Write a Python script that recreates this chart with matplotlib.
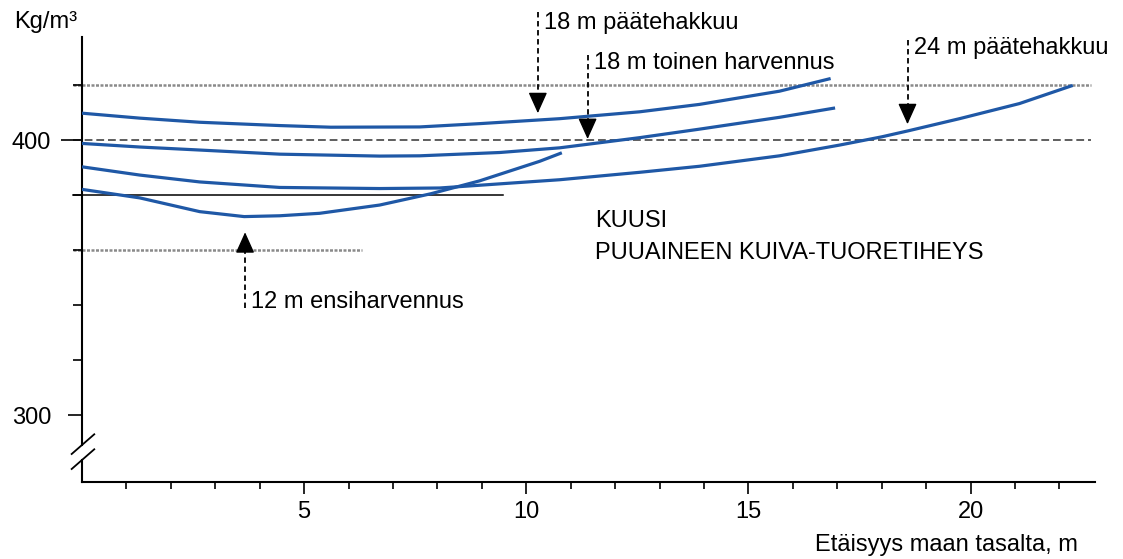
import matplotlib.pyplot as plt

plt.rcParams['font.family'] = ['Liberation Sans', 'DejaVu Sans']

# Käyrät: etäisyys maan tasalta (m) ja kuiva-tuoretiheys (kg/m3)
x_18_paate = [0, 1.3, 2.65, 4.45, 5.6, 7.6, 8.95, 10.75, 12.55, 13.9, 15.7, 16.85]
y_18_paate = [409.8, 408.0, 406.5, 405.3, 404.7, 404.8, 406.0, 407.8, 410.3, 413.0, 417.8, 422.4]

x_18_toinen = [0, 1.3, 2.65, 4.45, 6.7, 7.6, 9.4, 10.75, 12.55, 13.9, 15.7, 16.95]
y_18_toinen = [398.8, 397.5, 396.4, 394.9, 394.2, 394.3, 395.5, 397.2, 400.9, 404.0, 408.3, 411.7]

x_24_paate = [0, 1.3, 2.65, 4.45, 6.7, 8.05, 10.75, 12.55, 13.9, 15.7, 17.05, 18.0, 18.6, 19.75, 21.1, 22.3]
y_24_paate = [390.3, 387.3, 384.8, 382.8, 382.4, 382.6, 385.6, 388.3, 390.5, 394.3, 398.2, 401.2, 403.4, 407.8, 413.3, 419.9]

x_12_ensi = [0, 1.3, 2.65, 3.65, 4.45, 5.35, 6.7, 7.85, 8.95, 10.3, 10.8]
y_12_ensi = [382.1, 379.0, 374.0, 372.2, 372.5, 373.4, 376.4, 380.5, 385.2, 392.3, 395.4]

# Vaakaviivat: taso ja loppukohta (m)
ref_levels = [420, 400, 380, 360]
ref_ends = [22.72, 22.72, 9.47, 6.3]

# Nuolet: teksti, x, alku-y, kärki-y, tekstin x ja y
arrow_labels = ['18 m päätehakkuu', '18 m toinen harvennus', '24 m päätehakkuu', '12 m ensiharvennus']
arrow_x = [10.26, 11.38, 18.58, 3.67]
arrow_from = [446.5, 431.0, 436.4, 338.9]
arrow_to = [409.8, 400.4, 405.8, 366.5]
label_x = [10.4, 11.52, 18.72, 3.8]
label_y = [442.5, 428.0, 433.5, 341.0]

blue = '#1f58a6'

fig = plt.figure(figsize=(11.23, 5.59), dpi=100)
ax = fig.add_axes([82 / 1123, 1 - 482 / 559, 1013 / 1123, 445 / 559])
ax.set_xlim(0, 22.8)
ax.set_ylim(275.7, 437.5)

# vaakaviivat
styles = [dict(color='#8a8a8a', ls=(0, (1.2, 0.6)), lw=1.8),
          dict(color='#5e5e5e', ls=(0, (4, 2)), lw=1.4),
          dict(color='black', ls='-', lw=1.1),
          dict(color='#8a8a8a', ls=(0, (1.2, 0.6)), lw=1.8)]
for lev, end, st in zip(ref_levels, ref_ends, styles):
    ax.plot([-0.2, end], [lev, lev], clip_on=False, zorder=1, **st)

for xs, ys in [(x_18_paate, y_18_paate), (x_18_toinen, y_18_toinen),
               (x_24_paate, y_24_paate), (x_12_ensi, y_12_ensi)]:
    ax.plot(xs, ys, color=blue, lw=2.3, solid_capstyle='butt',
            solid_joinstyle='round', zorder=3)

head = 4.8  # nuolenkärjen pituus kg/m3-yksiköissä (noin 13 px)
for txt, x, y0, y1, tx, ty in zip(arrow_labels, arrow_x, arrow_from, arrow_to, label_x, label_y):
    d = 1 if y1 > y0 else -1
    ax.plot([x, x], [y0, y1 - d * head], color='black', lw=1.3, ls=(0, (3, 2)),
            clip_on=False, zorder=4)
    ax.annotate('', xy=(x, y1), xytext=(x, y1 - d * head), annotation_clip=False,
                arrowprops=dict(arrowstyle='-|>,head_length=1.0,head_width=0.45',
                                mutation_scale=13, color='black', lw=1.0,
                                shrinkA=0, shrinkB=0), zorder=4)
    ax.text(tx, ty, txt, fontsize=17, ha='left', va='center', clip_on=False)

ax.text(11.55, 370.6, 'KUUSI', fontsize=17, ha='left', va='center')
ax.text(11.55, 358.8, 'PUUAINEEN KUIVA-TUORETIHEYS', fontsize=17, ha='left', va='center')

# akselit
for s in ['top', 'right', 'left']:
    ax.spines[s].set_visible(False)
ax.spines['bottom'].set_linewidth(1.5)
ax.axvline(0, ymin=(482 - 445) / 445, ymax=1, color='black', lw=1.5, clip_on=False)
ax.axvline(0, ymin=0, ymax=(482 - 460) / 445, color='black', lw=1.5, clip_on=False)
for y0 in [(482 - 454) / 445, (482 - 469) / 445]:
    ax.plot([-0.0102, 0.0121], [y0, y0 + 0.0443], transform=ax.transAxes,
            color='black', lw=1.3, clip_on=False)

ax.set_xticks([5, 10, 15, 20])
ax.set_xticks(range(1, 23), minor=True)
ax.tick_params(axis='x', which='major', length=8.6, width=1.2, pad=5, labelsize=17)
ax.tick_params(axis='x', which='minor', length=5, width=1.2)

yt = [300, 320, 340, 360, 380, 400, 420]
ax.set_yticks(yt)
ax.set_yticklabels(['300', '', '', '', '', '400', ''])
ax.tick_params(axis='y', which='major', length=6.5, width=1.2, pad=15.8, labelsize=17)
ticks = ax.yaxis.get_major_ticks()
ticks[0].tick1line.set_markersize(10)
ticks[5].tick1line.set_markersize(15)

fig.text(14 / 1123, 1 - 22 / 559, 'Kg/m³', fontsize=17, ha='left', va='center')
fig.text(1078 / 1123, 1 - 545 / 559, 'Etäisyys maan tasalta, m', fontsize=17,
         ha='right', va='center')

fig.savefig('out.png', dpi=100)
